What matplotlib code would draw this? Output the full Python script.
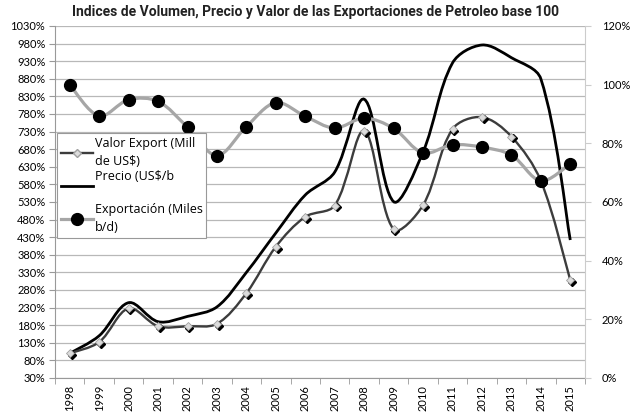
import matplotlib
matplotlib.use("Agg")
import matplotlib.pyplot as plt
import matplotlib.transforms as mtransforms
from matplotlib.path import Path
from matplotlib.patches import PathPatch
from matplotlib.lines import Line2D

# ---------- données ----------
years = [str(y) for y in range(1998, 2016)]
valor = [100, 132, 228, 177, 177, 184, 271, 403, 488, 520, 732, 452, 521, 737, 771, 716, 590, 308]
precio = [100, 150, 244, 190, 205, 232, 330, 442, 550, 615, 822, 531, 672, 925, 976, 940, 880, 422]
exportacion = [100, 89.3, 94.9, 94.3, 85.5, 75.8, 85.7, 93.9, 89.2, 85.2, 88.6, 85.1,
               76.7, 79.5, 78.7, 76.0, 67.2, 73.0]

left_ticks = list(range(30, 1031, 50))
right_ticks = list(range(0, 121, 20))

TICK_FONT = ["Lato", "DejaVu Sans"]
LEG_FONT = ["Open Sans", "DejaVu Sans"]
TITLE_FONT = ["Roboto", "DejaVu Sans"]

# taille de la zone de tracé en pixels
PX_W, PX_H = 530, 352


def smooth_path(xs, ys, sx, sy):
    """Courbe lissée façon Excel : Bezier, tangente P(i+1)-P(i-1),
    poignées proportionnelles à la longueur des segments (en pixels)."""
    n = len(xs)
    P = [(a * sx, b * sy) for a, b in zip(xs, ys)]

    def dist(p, q):
        return ((p[0] - q[0]) ** 2 + (p[1] - q[1]) ** 2) ** 0.5

    c_in, c_out = [], []
    for i in range(n):
        prev = P[i - 1] if i > 0 else P[i]
        nxt = P[i + 1] if i + 1 < n else P[i]
        tx, ty = nxt[0] - prev[0], nxt[1] - prev[1]
        dp, dn = dist(P[i], prev), dist(P[i], nxt)
        tot = dp + dn if dp + dn > 0 else 1
        k_in, k_out = dp / tot / 3, dn / tot / 3
        if i == 0 or i == n - 1:
            k_in, k_out = k_in / 2, k_out / 2
        c_in.append((P[i][0] - tx * k_in, P[i][1] - ty * k_in))
        c_out.append((P[i][0] + tx * k_out, P[i][1] + ty * k_out))

    verts = [P[0]]
    codes = [Path.MOVETO]
    for i in range(n - 1):
        verts += [c_out[i], c_in[i + 1], P[i + 1]]
        codes += [Path.CURVE4] * 3
    verts = [(a / sx, b / sy) for a, b in verts]
    return Path(verts, codes)


x = list(range(len(years)))
sx = PX_W / len(years)

fig = plt.figure(figsize=(6.31, 4.12), dpi=100)
fig.subplots_adjust(left=55 / 631, right=585 / 631, top=1 - 26 / 412, bottom=1 - 378 / 412)
ax = fig.add_subplot(111)
ax2 = ax.twinx()

# ---------- axe principal ----------
ax.set_xlim(-0.5, len(years) - 0.5)
ax.set_ylim(30, 1030)
ax.set_yticks(left_ticks)
ax.set_yticklabels([f"{v}%" for v in left_ticks], family=TICK_FONT, fontsize=8)
ax.set_xticks(x)
ax.set_xticklabels(years, rotation=90, family=TICK_FONT, fontsize=8)
ax.set_xticks([i - 0.5 for i in range(len(years) + 1)], minor=True)
ax.tick_params(axis="x", which="major", length=0, pad=5)
ax.tick_params(axis="x", which="minor", length=4, color="#999999")
ax.tick_params(axis="y", length=4, color="#999999", pad=3)
ax.grid(axis="y", color="#b8b8b8", linewidth=0.9)
ax.set_axisbelow(True)
for s in ["top", "right"]:
    ax.spines[s].set_visible(False)
for s in ["left", "bottom"]:
    ax.spines[s].set_color("#999999")

sy_left = PX_H / 1000
# Precio (noir, lissé)
ax.add_patch(PathPatch(smooth_path(x, precio, sx, sy_left), fill=False, edgecolor="black",
                       linewidth=2.0, capstyle="butt", zorder=3))
# Valor Export (gris foncé, lissé + losanges avec ombre)
ax.add_patch(PathPatch(smooth_path(x, valor, sx, sy_left), fill=False, edgecolor="#3c3c3c",
                       linewidth=1.7, capstyle="butt", zorder=3))
shadow = mtransforms.offset_copy(ax.transData, fig=fig, x=1.8, y=-1.8, units="dots")
ax.plot(x, valor, ls="none", marker="D", markersize=4.5, color="black",
        transform=shadow, zorder=4)
ax.plot(x, valor, ls="none", marker="D", markersize=4.5, markerfacecolor="#dcdcdc",
        markeredgecolor="#a0a0a0", markeredgewidth=0.6, zorder=5)

# ---------- axe secondaire ----------
ax2.set_ylim(0, 120)
ax2.set_yticks(right_ticks)
ax2.set_yticklabels([f"{v}%" for v in right_ticks], family=TICK_FONT, fontsize=8)
ax2.tick_params(axis="y", length=4, color="#cccccc", pad=8)
for s in ["top", "left", "bottom"]:
    ax2.spines[s].set_visible(False)
ax2.spines["right"].set_color("#cccccc")

sy_right = PX_H / 120
ax2.add_patch(PathPatch(smooth_path(x, exportacion, sx, sy_right), fill=False,
                        edgecolor="#a6a6a6", linewidth=2.3, capstyle="butt", zorder=3))
ax2.plot(x, exportacion, ls="none", marker="o", markersize=8.5, color="black", zorder=4)

# ---------- légende ----------
h_valor = Line2D([], [], color="#3c3c3c", lw=1.7, marker="D", markersize=4,
                 markerfacecolor="#dcdcdc", markeredgecolor="#a0a0a0")
h_precio = Line2D([], [], color="black", lw=2.0)
h_export = Line2D([], [], color="#a6a6a6", lw=2.3, marker="o", markersize=8.5,
                  markerfacecolor="black", markeredgecolor="black")
leg = ax2.legend([h_valor, h_precio, h_export],
                 ["Valor Export (Mill\nde US$)", "Precio (US$/b\n ", "Exportación (Miles\nb/d)"],
                 loc="upper left", bbox_to_anchor=(0.004, 0.695),
                 prop={"family": LEG_FONT, "size": 9},
                 frameon=True, fancybox=False, framealpha=1, edgecolor="#999999",
                 handlelength=2.6, handletextpad=0.1, labelspacing=0.15,
                 borderpad=0.3, borderaxespad=0)
for t in leg.get_texts():
    t.set_linespacing(1.5)
leg.get_frame().set_linewidth(0.8)

fig.text(0.5, 1 - 12 / 412, "Indices de Volumen, Precio y Valor de las Exportaciones de Petroleo base 100",
         ha="center", va="center", fontsize=10, fontweight="bold", family=TITLE_FONT,
         color="#222222")

fig.savefig("out.png", dpi=100, facecolor="white")
